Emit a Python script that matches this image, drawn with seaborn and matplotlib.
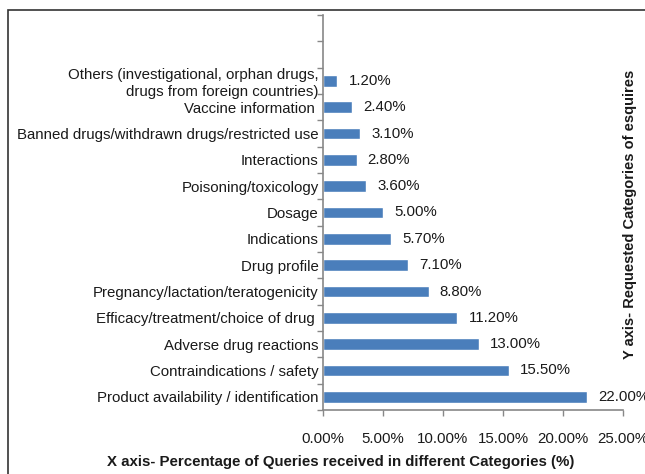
import matplotlib
matplotlib.use("Agg")
import matplotlib.pyplot as plt
import seaborn as sns
import pandas as pd
import numpy as np
from matplotlib.ticker import FuncFormatter, FixedLocator
from matplotlib.patches import Rectangle

categories = [
    "Others (investigational, orphan drugs,\ndrugs from foreign countries)",
    "Vaccine information ",
    "Banned drugs/withdrawn drugs/restricted use",
    "Interactions",
    "Poisoning/toxicology",
    "Dosage",
    "Indications",
    "Drug profile",
    "Pregnancy/lactation/teratogenicity",
    "Efficacy/treatment/choice of drug ",
    "Adverse drug reactions",
    "Contraindications / safety",
    "Product availability / identification",
]
values = [1.2, 2.4, 3.1, 2.8, 3.6, 5.0, 5.7, 7.1, 8.8, 11.2, 13.0, 15.5, 22.0]
x_ticks = [0, 5, 10, 15, 20, 25]

sns.set_style("white")
plt.rcParams["font.family"] = ["Liberation Sans", "DejaVu Sans"]

W, H = 645, 474
fig = plt.figure(figsize=(W / 100, H / 100), dpi=100)
ax = fig.add_axes([323 / W, 1 - 410 / H, 300 / W, 395 / H])

df = pd.DataFrame({"cat": categories, "val": values})
sns.barplot(data=df, y="cat", x="val", orient="h", color="#4A7EBB",
            saturation=1, width=0.44, ax=ax)

n = len(categories)
ax.set_ylim(n - 0.5, -2.5)
ax.set_xlim(0, 25)
ax.set_xticks(x_ticks)
ax.xaxis.set_major_formatter(FuncFormatter(lambda v, p: f"{v:.2f}%"))
ax.yaxis.set_minor_locator(FixedLocator(np.arange(-2.5, n, 1.0)))
ax.tick_params(axis="y", which="major", length=0, pad=3, labelsize=10.8,
               labelcolor="#1a1a1a")
ax.tick_params(axis="y", which="minor", length=4, color="#888888", width=1, left=True)
ax.tick_params(axis="x", which="major", length=4, color="#888888", width=1,
               pad=12, labelsize=10.8, labelcolor="#1a1a1a", bottom=True)

for c in ax.containers:
    ax.bar_label(c, labels=[f"{v:.2f}%" for v in values], padding=8,
                 fontsize=10.8, color="#1a1a1a")

for s in ["top", "right"]:
    ax.spines[s].set_visible(False)
for s in ["left", "bottom"]:
    ax.spines[s].set_color("#888888")
    ax.spines[s].set_linewidth(1.2)

ax.set_ylabel("")
ax.set_xlabel("")
fig.text(341 / W, 1 - 462 / H,
         "X axis- Percentage of Queries received in different Categories (%)",
         ha="center", va="center", fontsize=10.8, fontweight="bold", color="#1a1a1a")
fig.text(630 / W, 1 - 214 / H, "Y axis- Requested Categories of esquires",
         ha="center", va="center", rotation=90, fontsize=10.5,
         fontweight="bold", color="#1a1a1a")

fig.patches.append(Rectangle((8 / W, -0.1), 1.2, 1 - 10 / H + 0.1,
                             transform=fig.transFigure, fill=False,
                             edgecolor="#333333", linewidth=1.2))

fig.savefig("out.png", dpi=100)
